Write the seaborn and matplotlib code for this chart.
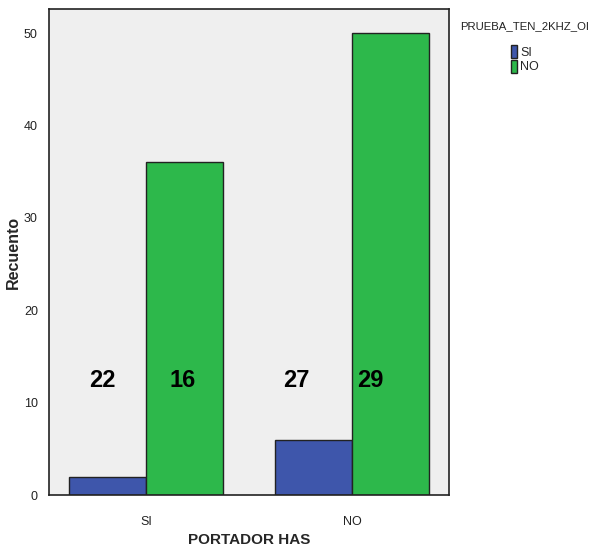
import matplotlib
matplotlib.use("Agg")
import matplotlib.pyplot as plt
import seaborn as sns
import pandas as pd
from matplotlib.patches import Patch

categories = ["SI", "NO"]
hue_levels = ["SI", "NO"]
counts_si = [2, 6]
counts_no = [36, 50]
annot_texts = ["22", "16", "27", "29"]
annot_x = [-0.21, 0.18, 0.73, 1.09]
annot_y = [12.4, 12.4, 12.4, 12.4]
legend_title = "PRUEBA_TEN_2KHZ_OI"

df = pd.DataFrame({
    "PORTADOR HAS": categories * 2,
    "PRUEBA_TEN_2KHZ_OI": [hue_levels[0]] * 2 + [hue_levels[1]] * 2,
    "Recuento": counts_si + counts_no,
})

sns.set_style("white")
plt.rcParams["font.family"] = ["Liberation Sans", "DejaVu Sans"]

colors = {"SI": "#3E56AB", "NO": "#2DB84B"}

fig = plt.figure(figsize=(5.9, 5.49), dpi=100)
ax = fig.add_axes([49/590, 1 - 495/549, 400/590, 486/549])
sns.barplot(data=df, x="PORTADOR HAS", y="Recuento", hue="PRUEBA_TEN_2KHZ_OI",
            hue_order=hue_levels, order=categories, palette=colors, saturation=1,
            width=0.748, edgecolor="#222222", linewidth=1.0, ax=ax, legend=False)

ax.set_facecolor("#EFEFEF")
ax.set_xlim(-0.471, 1.471)
ax.set_ylim(0, 52.6)
ax.set_yticks([0, 10, 20, 30, 40, 50])
for s in ax.spines.values():
    s.set_color("#222222")
    s.set_linewidth(1.2)
ax.tick_params(axis="both", direction="out", width=1, color="#222222",
               labelsize=9, labelcolor="#222222")
ax.tick_params(axis="x", length=9, pad=6)
ax.tick_params(axis="y", length=6, pad=2)
ax.set_xlabel("PORTADOR HAS", fontsize=11, fontweight="bold")
ax.xaxis.set_label_coords(0.5, -0.078)
ax.set_ylabel("Recuento", fontsize=11.5, fontweight="bold")
ax.yaxis.set_label_coords(-0.07, 0.5)

for t, x, y in zip(annot_texts, annot_x, annot_y):
    ax.text(x, y, t, ha="center", va="center", fontsize=17, fontweight="bold", color="black")

fig.text(460/590, 1 - 26/549, legend_title, ha="left", va="center",
         fontsize=8.2, color="#222222")
handles = [Patch(facecolor=colors[h], edgecolor="#222222", label=h) for h in hue_levels]
leg = fig.legend(handles=handles, loc="upper left",
                 bbox_to_anchor=(501/590, 1 - 35/549), frameon=False, fontsize=9,
                 handlelength=0.5, handleheight=1.2,
                 handletextpad=0.25, labelspacing=0.1, borderpad=0.3)

fig.savefig("out.png", dpi=100)
